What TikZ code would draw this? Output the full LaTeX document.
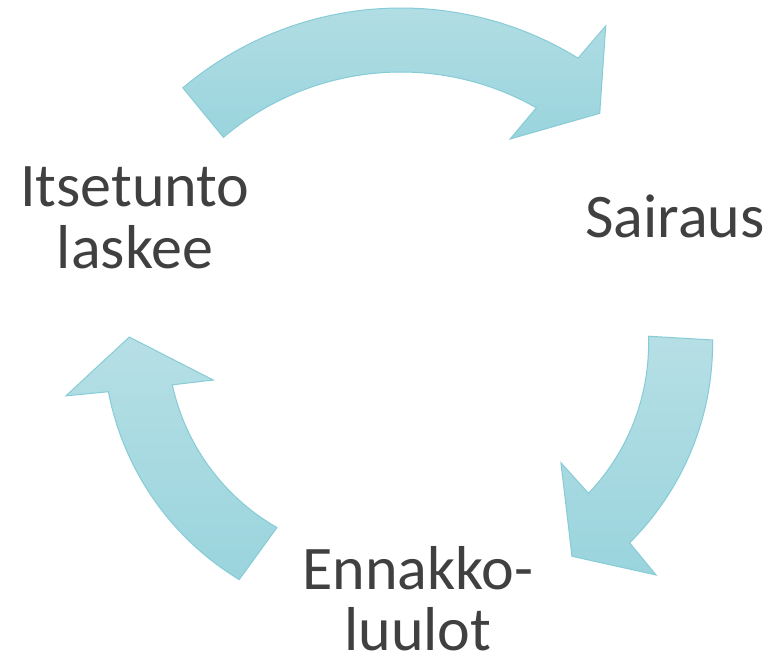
\documentclass[tikz,border=0pt]{standalone}
\usepackage{fontspec}
\setmainfont{Carlito}
\definecolor{arrowtop}{HTML}{B6DFE5}
\definecolor{arrowbottom}{HTML}{9AD4DD}
\definecolor{arrowline}{HTML}{86CCD6}
\definecolor{labeltext}{HTML}{404040}
\tikzstyle{cyclearrow}=[draw=arrowline,line width=1pt,top color=arrowtop,bottom color=arrowbottom]
\tikzstyle{cyclelabel}=[text=labeltext,align=center,inner sep=0pt,anchor=base,font=\fontsize{62}{61}\selectfont]

\begin{document}
\begin{tikzpicture}[x=1pt,y=1pt]
  \useasboundingbox (0,0) rectangle (775,665);
  % top arrow
  \begin{scope}[shift={(401,319)}]
    \draw[cyclearrow] (130.2:338) arc[start angle=130.2,end angle=58.4,radius=338]
      -- (57.4:380) -- (49.5:306) -- (62.2:234) -- (60.4:274)
      arc[start angle=60.4,end angle=130.4,radius=274] -- cycle;
  \end{scope}
  % right arrow
  \begin{scope}[shift={(431.6,321.6)}]
    \draw[cyclearrow] (0.7:281) arc[start angle=0.7,end angle=-45.2,radius=281]
      -- (-45.9:322.5) -- (-56.6:255) -- (-42.7:176) -- (-43.7:217)
      arc[start angle=-43.7,end angle=1.9,radius=217] -- cycle;
  \end{scope}
  % left arrow
  \begin{scope}[shift={(385.3,326.6)}]
    \draw[cyclearrow] (238.8:282) arc[start angle=238.8,end angle=190.9,radius=282]
      -- (190.2:324.5) -- (179.7:256) -- (193.6:177) -- (192.3:218)
      arc[start angle=192.3,end angle=240.2,radius=218] -- cycle;
  \end{scope}

  % labels (anchor base = last line)
  \node[cyclelabel] (itsetunto) at (135,397) {Itsetunto\\laskee};
  \node[cyclelabel] (sairaus) at (675,428) {Sairaus};
  \node[cyclelabel] (ennakko) at (418,15) {Ennakko-\\luulot};
\end{tikzpicture}
\end{document}
